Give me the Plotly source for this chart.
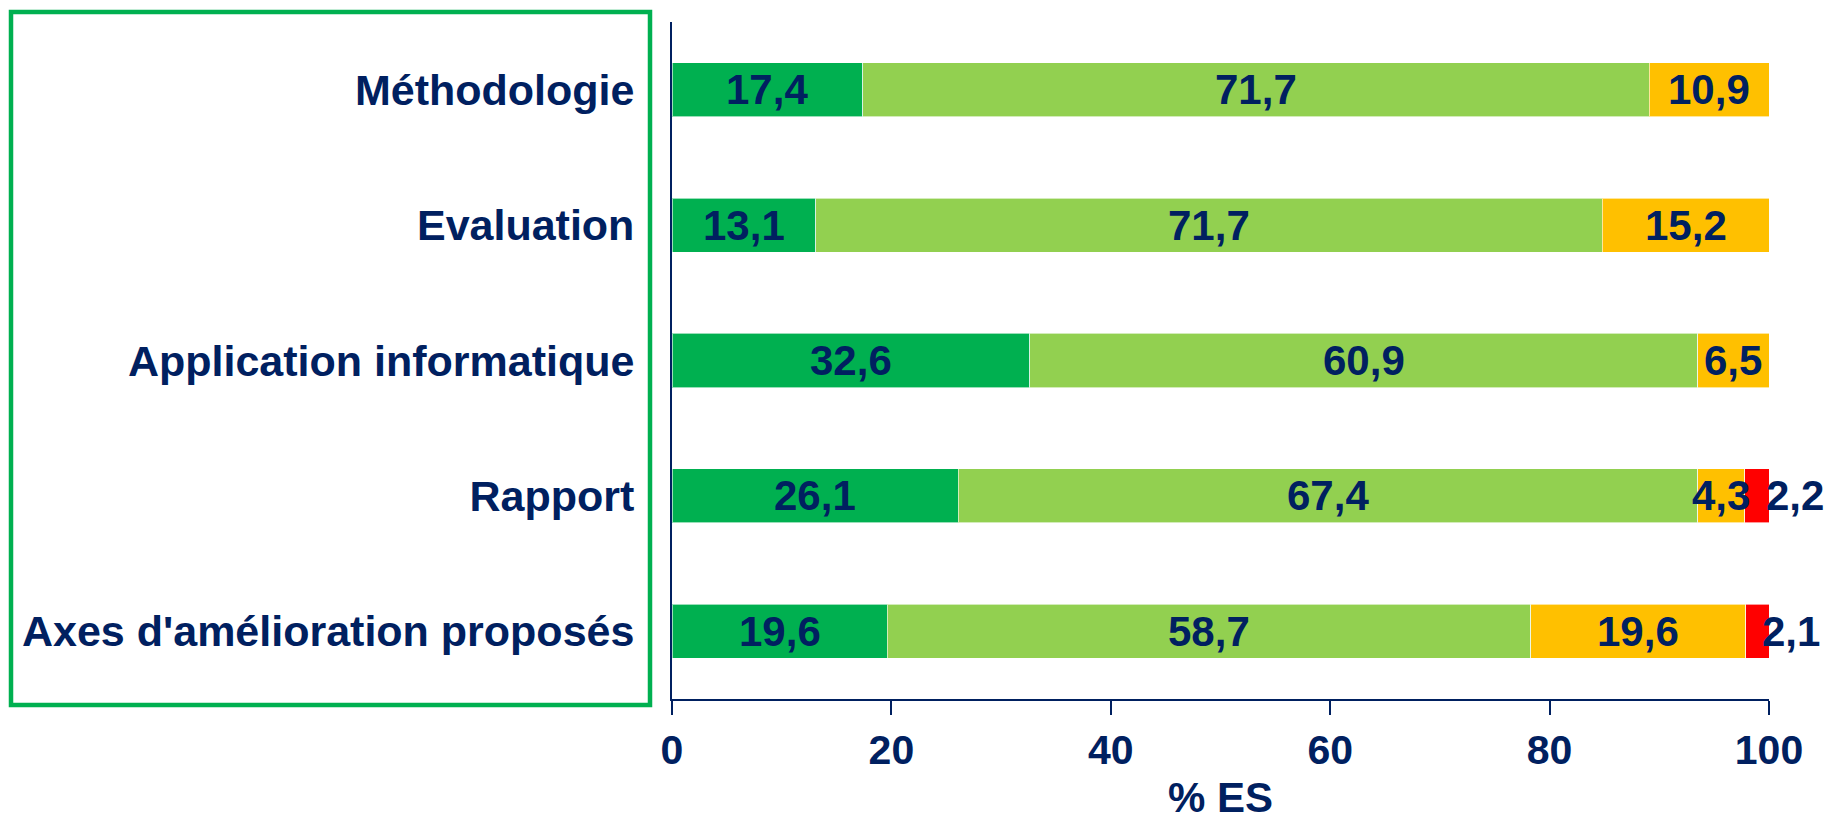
import plotly.graph_objects as go

categories = ["Méthodologie", "Evaluation", "Application informatique", "Rapport", "Axes d'amélioration proposés"]
tres_satisfait = [17.4, 13.1, 32.6, 26.1, 19.6]
satisfait = [71.7, 71.7, 60.9, 67.4, 58.7]
peu_satisfait = [10.9, 15.2, 6.5, 4.3, 19.6]
pas_satisfait = [0, 0, 0, 2.2, 2.1]
x_ticks = [0, 20, 40, 60, 80, 100]

series = [
    ("Très satisfait", tres_satisfait, "#00B050"),
    ("Satisfait", satisfait, "#92D050"),
    ("Peu satisfait", peu_satisfait, "#FFC000"),
    ("Pas satisfait", pas_satisfait, "#FF0000"),
]

NAVY = "#002060"
FONT = "Arial, Liberation Sans, sans-serif"
FS_CAT = 43
FS_VAL = 42
FS_TICK = 41

fig = go.Figure()
for name, vals, col in series:
    fig.add_trace(go.Bar(
        y=categories, x=vals, name=name, orientation="h",
        marker=dict(color=col, line=dict(color="rgba(255,255,255,0.6)", width=1)),
        hoverinfo="x+y+name",
    ))

annotations = []
for i, cat in enumerate(categories):
    cum = 0.0
    for si, (name, vals, col) in enumerate(series):
        v = vals[i]
        if v > 0:
            txt = f"{v:.1f}".replace(".", ",")
            if si == 3:
                annotations.append(dict(x=100, y=cat, xref="x", yref="y", text=txt,
                                        showarrow=False, xanchor="left",
                                        xshift=(-4 if v >= 2.2 else -8),
                                        borderpad=0,
                                        font=dict(family=FONT, size=FS_VAL, color=NAVY, weight="bold")))
            else:
                annotations.append(dict(x=cum + v / 2, y=cat, xref="x", yref="y", text=txt,
                                        showarrow=False, xanchor="center",
                                        font=dict(family=FONT, size=FS_VAL, color=NAVY, weight="bold")))
        cum += v

annotations.append(dict(x=0.5, y=-0.145, xref="paper", yref="paper", text="% ES",
                        showarrow=False, xanchor="center", yanchor="middle", borderpad=0,
                        font=dict(family=FONT, size=FS_VAL, color=NAVY, weight="bold")))

fig.update_layout(
    barmode="stack",
    bargap=0.6,
    width=1827, height=823,
    margin=dict(l=672, r=58, t=22, b=124),
    plot_bgcolor="white", paper_bgcolor="white",
    showlegend=False,
    font=dict(family=FONT, size=FS_VAL, color=NAVY, weight="bold"),
    annotations=annotations,
    xaxis=dict(range=[0, 100], tickvals=x_ticks, showgrid=False, zeroline=False,
               showline=True, linecolor=NAVY, linewidth=2,
               ticks="outside", ticklen=14, tickwidth=2, tickcolor=NAVY,
               tickfont=dict(family=FONT, size=FS_TICK, color=NAVY, weight="bold")),
    yaxis=dict(categoryorder="array", categoryarray=categories[::-1],
               range=[-0.5, 4.5], showgrid=False, zeroline=False,
               showline=True, linecolor=NAVY, linewidth=2, ticks="",
               ticklabelstandoff=27,
               tickfont=dict(family=FONT, size=FS_CAT, color=NAVY, weight="bold")),
    shapes=[dict(type="rect", xref="paper", yref="paper",
                 x0=(11 - 672) / 1097, x1=(650 - 672) / 1097,
                 y0=(699 - 705) / 677, y1=(699 - 12) / 677,
                 line=dict(color="#00B050", width=4.5), fillcolor="rgba(0,0,0,0)")],
)

fig.write_html("out.html", config={"displayModeBar": False},
               post_script="document.body.style.margin='0';document.body.style.overflow='hidden';")
